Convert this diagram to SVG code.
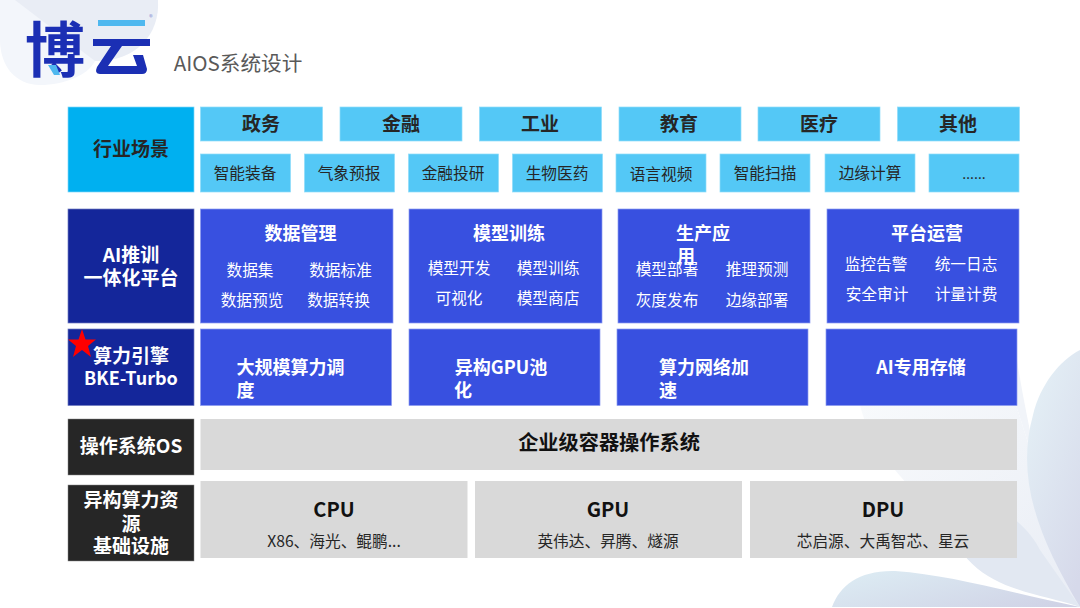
<svg xmlns="http://www.w3.org/2000/svg" width="1080" height="608" viewBox="0 0 1080 608">
<defs>
<linearGradient id="pet" x1="0.2" y1="0" x2="0.8" y2="1"><stop offset="0" stop-color="#e4f0f6"/><stop offset="1" stop-color="#d6d9ea"/></linearGradient>
<linearGradient id="pet2" x1="0" y1="0.2" x2="1" y2="0.8"><stop offset="0" stop-color="#dcebf3"/><stop offset="1" stop-color="#d0d3e6"/></linearGradient>
<linearGradient id="pet3" x1="0" y1="0" x2="1" y2="1"><stop offset="0" stop-color="#f8fafc"/><stop offset="1" stop-color="#e9edf5"/></linearGradient>
</defs>
<style>
text{font-family:"Noto Sans CJK SC","Noto Sans",sans-serif;text-anchor:middle}
.sky{fill:#54c8f6;stroke:#8fdcfa;stroke-width:.7}
.blue{fill:#3850e0;stroke:#8c9bf0;stroke-width:.7}
.navy{fill:#14269a;stroke:#6f7cc0;stroke-width:.7}
.dark{fill:#262626;stroke:#888;stroke-width:.5}
.grey{fill:#d9d9d9}
.h1{font-size:19px;font-weight:700}
.h18{font-size:18px;font-weight:700}
.h2{font-size:18px;font-weight:700}
.s{font-size:15.700px}
.w{fill:#fff}
.k{fill:#262626}
.b{fill:#111}
</style>
<rect width="1080" height="608" fill="#fff"/>
<g id="background">
<path d="M0 0H158C160 35 135 62 95 61C88 75 65 85 40 85C15 85 0 65 0 40Z" fill="#f3f6fb"/>
<path d="M15 0H158C160 35 135 62 95 61Z" fill="#e9edf5"/>
<path d="M860 405H1016L1080 607C1000 560 880 490 860 405Z" fill="url(#pet3)"/>
<path d="M1016 355C1030 440 1050 530 1080 607L1016 405Z" fill="#f1f4f9"/>
<path d="M1080 607C1040 540 1015 480 1033 415C1040 385 1060 360 1080 350Z" fill="url(#pet)"/>
<path d="M1080 607C1030 590 960 590 945 510C985 490 1025 520 1040 550Z" fill="#e2e8f2"/>
<path d="M1080 607C1000 590 950 575 895 571C860 570 840 585 832 607Z" fill="url(#pet2)"/>
</g>
<g id="logo">
<text x="55" y="72" style="font-size:60px;font-weight:700" fill="#1b2fb4">博</text>
<path d="M48 65H56L60 75H54Z" fill="#4fb8ef"/>
<rect x="98" y="20" width="47" height="6" fill="#4fb8ef"/>
<rect x="93" y="39" width="57" height="7" fill="#1b2fb4"/>
<path d="M111 46H122L108 66H137L133 55H143L147 69Q147 74 142 74H100Q94 74 97 67Z" fill="#1b2fb4"/>
<text x="151" y="20" style="font-size:7px" fill="#7a86d0">®</text>
<text x="238" y="70.500" style="font-size:20.600px" fill="#595959">AIOS系统设计</text>
</g>
<g id="industry">
<rect x="68" y="107" width="126" height="85" fill="#00b0f0" stroke="#7fd8f8" stroke-width=".7"/>
<text class="h1 k" x="131" y="156">行业场景</text>
</g>
<g id="sectors">
<rect class="sky" x="200.500" y="107" width="122" height="34"/><text class="h1 k" x="261" y="131">政务</text>
<rect class="sky" x="340" y="107" width="122" height="34"/><text class="h1 k" x="401" y="131">金融</text>
<rect class="sky" x="479.500" y="107" width="122" height="34"/><text class="h1 k" x="540" y="131">工业</text>
<rect class="sky" x="619" y="107" width="122" height="34"/><text class="h1 k" x="679" y="131">教育</text>
<rect class="sky" x="758" y="107" width="122" height="34"/><text class="h1 k" x="819" y="131">医疗</text>
<rect class="sky" x="897.500" y="107" width="122" height="34"/><text class="h1 k" x="958" y="131">其他</text>
</g>
<g id="scenarios">
<rect class="sky" x="200.500" y="154" width="90" height="38"/><text class="s k" x="245" y="179">智能装备</text>
<rect class="sky" x="304.500" y="154" width="90" height="38"/><text class="s k" x="349" y="179">气象预报</text>
<rect class="sky" x="408.500" y="154" width="90" height="38"/><text class="s k" x="453" y="179">金融投研</text>
<rect class="sky" x="512.500" y="154" width="90" height="38"/><text class="s k" x="557" y="179">生物医药</text>
<rect class="sky" x="616" y="154" width="90" height="38"/><text class="s k" x="661" y="179.500">语言视频</text>
<rect class="sky" x="720" y="154" width="90" height="38"/><text class="s k" x="765" y="179">智能扫描</text>
<rect class="sky" x="825" y="154" width="90" height="38"/><text class="s k" x="870" y="179">边缘计算</text>
<rect class="sky" x="929" y="154" width="90" height="38"/><text class="s k" x="974" y="179" style="font-family:'Open Sans',sans-serif;font-size:15px">……</text>
</g>
<g id="platform">
<rect class="navy" x="68" y="209" width="126" height="114"/>
<text class="h1 w" x="131" y="261.500">AI推训</text><text class="h1 w" x="131" y="285">一体化平台</text>
</g>
<g id="data">
<rect class="blue" x="200.500" y="209" width="192.500" height="114"/>
<text class="h18 w" x="300.500" y="240">数据管理</text>
<text class="s w" x="250" y="276">数据集</text><text class="s w" x="340.500" y="276">数据标准</text>
<text class="s w" x="252" y="306">数据预览</text><text class="s w" x="338.500" y="306">数据转换</text>
</g>
<g id="train">
<rect class="blue" x="409" y="209" width="193" height="114"/>
<text class="h18 w" x="509" y="240">模型训练</text>
<text class="s w" x="459" y="274">模型开发</text><text class="s w" x="548" y="274">模型训练</text>
<text class="s w" x="459" y="304">可视化</text><text class="s w" x="548" y="304">模型商店</text>
</g>
<g id="prod">
<rect class="blue" x="618" y="209" width="192" height="114"/>
<text class="h18 w" x="703" y="240">生产应</text><text class="h18 w" x="686" y="263">用</text>
<text class="s w" x="667" y="275">模型部署</text><text class="s w" x="757" y="275">推理预测</text>
<text class="s w" x="667" y="306">灰度发布</text><text class="s w" x="757" y="306">边缘部署</text>
</g>
<g id="ops">
<rect class="blue" x="827" y="209" width="192" height="114"/>
<text class="h18 w" x="927" y="240">平台运营</text>
<text class="s w" x="876" y="270">监控告警</text><text class="s w" x="966" y="270">统一日志</text>
<text class="s w" x="877" y="300">安全审计</text><text class="s w" x="966" y="300">计量计费</text>
</g>
<g id="engine">
<rect class="navy" x="68" y="329" width="126" height="76.500"/>
<text class="h1 w" x="131" y="363">算力引擎</text><text class="h18 w" x="131" y="385">BKE-Turbo</text>
<polygon points="82,329 85.500,339.500 96,339.500 88,346 91,357 82,350 73,357 76,346 68,339.500 78.500,339.500" fill="#ff0000"/>
</g>
<g id="sched">
<rect class="blue" x="200.500" y="329" width="191" height="76.500"/>
<text class="h2 w" x="290.500" y="374">大规模算力调</text><text class="h2 w" x="245.500" y="396.500">度</text>
</g>
<g id="gpupool">
<rect class="blue" x="409" y="329" width="191" height="76.500"/>
<text class="h2 w" x="501" y="374">异构GPU池</text><text class="h2 w" x="463" y="396.500">化</text>
</g>
<g id="net">
<rect class="blue" x="617" y="329" width="191" height="76.500"/>
<text class="h2 w" x="704" y="374">算力网络加</text><text class="h2 w" x="668" y="396.500">速</text>
</g>
<g id="storage">
<rect class="blue" x="826" y="329" width="191" height="76.500"/>
<text class="h2 w" x="921" y="374">AI专用存储</text>
</g>
<g id="os">
<rect class="dark" x="68" y="419" width="126" height="56"/>
<text class="h1 w" x="131" y="453">操作系统OS</text>
<rect class="grey" x="200.500" y="419" width="816.500" height="51"/>
<text x="609" y="450" style="font-size:20.200px;font-weight:700" fill="#111">企业级容器操作系统</text>
</g>
<g id="resource">
<rect class="dark" x="68" y="485" width="126" height="76"/>
<text class="h1 w" x="131" y="507">异构算力资</text><text class="h1 w" x="131" y="531">源</text><text class="h1 w" x="131" y="553">基础设施</text>
</g>
<g id="cpu">
<rect class="grey" x="200.500" y="481" width="267" height="77"/>
<text x="334" y="517" style="font-size:20px;font-weight:700" fill="#111">CPU</text><text class="s k" x="334" y="547">X86、海光、鲲鹏...</text>
</g>
<g id="gpu">
<rect class="grey" x="475" y="481" width="267" height="77"/>
<text x="608" y="517" style="font-size:20px;font-weight:700" fill="#111">GPU</text><text class="s k" x="608" y="547">英伟达、昇腾、燧源</text>
</g>
<g id="dpu">
<rect class="grey" x="750" y="481" width="267" height="77"/>
<text x="883" y="517" style="font-size:20px;font-weight:700" fill="#111">DPU</text><text class="s k" x="883" y="547">芯启源、大禹智芯、星云</text>
</g>
<g id="connectors"></g>
</svg>
